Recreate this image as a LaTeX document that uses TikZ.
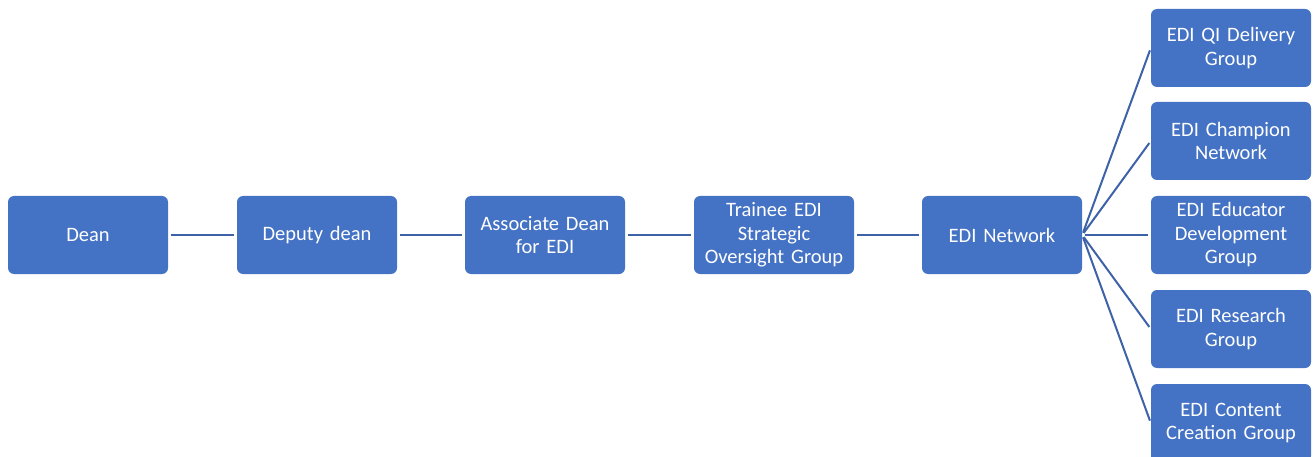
\documentclass[tikz,border=0pt]{standalone}
\usepackage{fontspec}
\setmainfont{Carlito}
\definecolor{boxblue}{HTML}{4472C4}
\definecolor{lineblue}{HTML}{3D62A8}
\begin{document}
\begin{tikzpicture}[x=1pt,y=-1pt,
  box/.style={fill=boxblue, draw=none, rounded corners=6pt, minimum width=160pt, minimum height=78pt,
    text=white, align=center, font=\fontsize{20.5}{23.5}\selectfont, inner sep=2pt, text width=156pt},
  link/.style={draw=lineblue, line width=2pt, shorten <=2.5pt, shorten >=2.5pt}]
\useasboundingbox (0,0) rectangle (1314,457);
\node[box] (dean) at (88,235) {Dean};
\node[box] (deputy) at (317,235) {Deputy dean};
\node[box] (assoc) at (545,235) {Associate Dean\\for EDI};
\node[box] (trainee) at (774,235) {Trainee EDI\\Strategic\\Oversight Group};
\node[box] (network) at (1002,235) {EDI Network};
\node[box] (qi) at (1231,48) {EDI QI Delivery\\Group};
\node[box] (champ) at (1231,141) {EDI Champion\\Network};
\node[box] (educ) at (1231,235) {EDI Educator\\Development\\Group};
\node[box] (research) at (1231,329) {EDI Research\\Group};
\node[box] (content) at (1231,423) {EDI Content\\Creation Group};
\draw[link] (dean) -- (deputy);
\draw[link] (deputy) -- (assoc);
\draw[link] (assoc) -- (trainee);
\draw[link] (trainee) -- (network);
\foreach \t in {qi,champ,educ,research,content}
  \draw[link] (network.east) -- (\t.west);
\end{tikzpicture}
\end{document}
